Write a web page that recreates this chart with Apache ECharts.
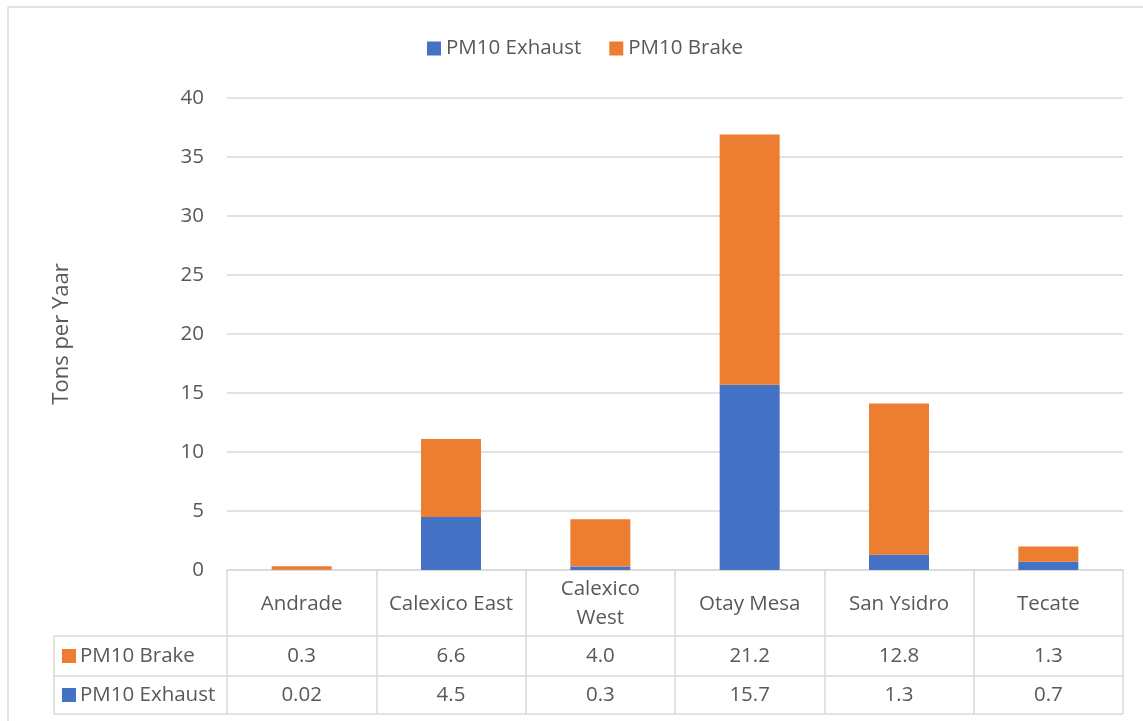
<!DOCTYPE html>
<html>
<head>
<meta charset="utf-8">
<script src="https://cdn.jsdelivr.net/npm/echarts@6/dist/echarts.min.js"></script>
<style>
html,body{margin:0;padding:0;background:#fff;}
#c{width:1143px;height:721px;}
</style>
</head>
<body>
<div id="c"></div>
<script>
const categories = ['Andrade', 'Calexico East', 'Calexico West', 'Otay Mesa', 'San Ysidro', 'Tecate'];
const exhaust = [0.02, 4.5, 0.3, 15.7, 1.3, 0.7];
const brake = [0.3, 6.6, 4.0, 21.2, 12.8, 1.3];
const exhaustLabels = ['0.02', '4.5', '0.3', '15.7', '1.3', '0.7'];
const brakeLabels = ['0.3', '6.6', '4.0', '21.2', '12.8', '1.3'];
const yTicks = [0, 5, 10, 15, 20, 25, 30, 35, 40];

const FONT = 'Open Sans';
const FS = 20.5;
const TXT = '#595959';
const LINE = '#d9d9d9';
const BLUE = '#4472C4';
const ORANGE = '#ED7D31';

const G = {left: 227, right: 20, top: 98, bottom: 151};
const W = 1143, H = 721;
const axisY = H - G.bottom;       // 570
const row1 = axisY + 66;          // 636
const row2 = axisY + 106;         // 676
const row3 = axisY + 144;         // 714
const boxLeft = 54;
const gridRight = W - G.right;

const chart = echarts.init(document.getElementById('c'), null, {renderer: 'canvas'});

const option = {
  backgroundColor: '#fff',
  animation: false,
  textStyle: {fontFamily: FONT, color: TXT},
  legend: {
    data: ['PM10 Exhaust', 'PM10 Brake'],
    left: 422, top: 33,
    icon: 'rect', itemWidth: 14, itemHeight: 14, itemGap: 28,
    textStyle: {fontFamily: FONT, fontSize: FS, color: TXT}
  },
  grid: G,
  xAxis: [
    {
      type: 'category', data: categories, position: 'bottom',
      axisLine: {lineStyle: {color: LINE, width: 1.5}},
      axisTick: {show: true, interval: 0, length: row3 - axisY, lineStyle: {color: LINE, width: 1.5}},
      axisLabel: {
        interval: 0, margin: 34, verticalAlign: 'middle', fontFamily: FONT, fontSize: FS, color: TXT,
        lineHeight: 29,
        formatter: v => v === 'Calexico West' ? 'Calexico\nWest' : v
      }
    },
    {
      type: 'category', data: categories, position: 'bottom', gridIndex: 0,
      axisLine: {show: false}, axisTick: {show: false},
      axisLabel: {interval: 0, margin: 86, verticalAlign: 'middle', fontFamily: FONT, fontSize: FS, color: TXT,
        formatter: (v, i) => brakeLabels[i]}
    },
    {
      type: 'category', data: categories, position: 'bottom', gridIndex: 0,
      axisLine: {show: false}, axisTick: {show: false},
      axisLabel: {interval: 0, margin: 125, verticalAlign: 'middle', fontFamily: FONT, fontSize: FS, color: TXT,
        formatter: (v, i) => exhaustLabels[i]}
    }
  ],
  yAxis: {
    type: 'value', min: yTicks[0], max: yTicks[yTicks.length - 1], interval: 5,
    name: 'Tons per Yaar', nameLocation: 'middle', nameGap: 154,
    nameTextStyle: {fontFamily: FONT, fontSize: 22, color: TXT},
    axisLine: {show: false}, axisTick: {show: false},
    axisLabel: {margin: 23, fontFamily: FONT, fontSize: FS, color: TXT},
    splitLine: {lineStyle: {color: LINE, width: 1.5}}
  },
  series: [
    {name: 'PM10 Exhaust', type: 'bar', stack: 'pm', data: exhaust, barWidth: 60, itemStyle: {color: BLUE}},
    {name: 'PM10 Brake', type: 'bar', stack: 'pm', data: brake, barWidth: 60, itemStyle: {color: ORANGE}}
  ],
  graphic: [
    {type: 'line', shape: {x1: 8, y1: 7, x2: W, y2: 7}, style: {stroke: LINE, lineWidth: 1.5}, silent: true},
    {type: 'line', shape: {x1: 8, y1: 7, x2: 8, y2: H}, style: {stroke: LINE, lineWidth: 1.5}, silent: true},
    {type: 'line', shape: {x1: boxLeft, y1: row1, x2: gridRight, y2: row1}, style: {stroke: LINE, lineWidth: 1.5}},
    {type: 'line', shape: {x1: boxLeft, y1: row2, x2: gridRight, y2: row2}, style: {stroke: LINE, lineWidth: 1.5}},
    {type: 'line', shape: {x1: boxLeft, y1: row3, x2: gridRight, y2: row3}, style: {stroke: LINE, lineWidth: 1.5}},
    {type: 'line', shape: {x1: boxLeft, y1: row1, x2: boxLeft, y2: row3}, style: {stroke: LINE, lineWidth: 1.5}},
    {type: 'rect', shape: {x: 62, y: (row1 + row2) / 2 - 7, width: 14, height: 14}, style: {fill: ORANGE}},
    {type: 'text', x: 80, y: (row1 + row2) / 2, style: {text: 'PM10 Brake', font: FS + 'px "Open Sans"', fill: TXT, verticalAlign: 'middle'}},
    {type: 'rect', shape: {x: 62, y: (row2 + row3) / 2 - 7, width: 14, height: 14}, style: {fill: BLUE}},
    {type: 'text', x: 80, y: (row2 + row3) / 2, style: {text: 'PM10 Exhaust', font: FS + 'px "Open Sans"', fill: TXT, verticalAlign: 'middle'}}
  ]
};
chart.setOption(option);
</script>
</body>
</html>
